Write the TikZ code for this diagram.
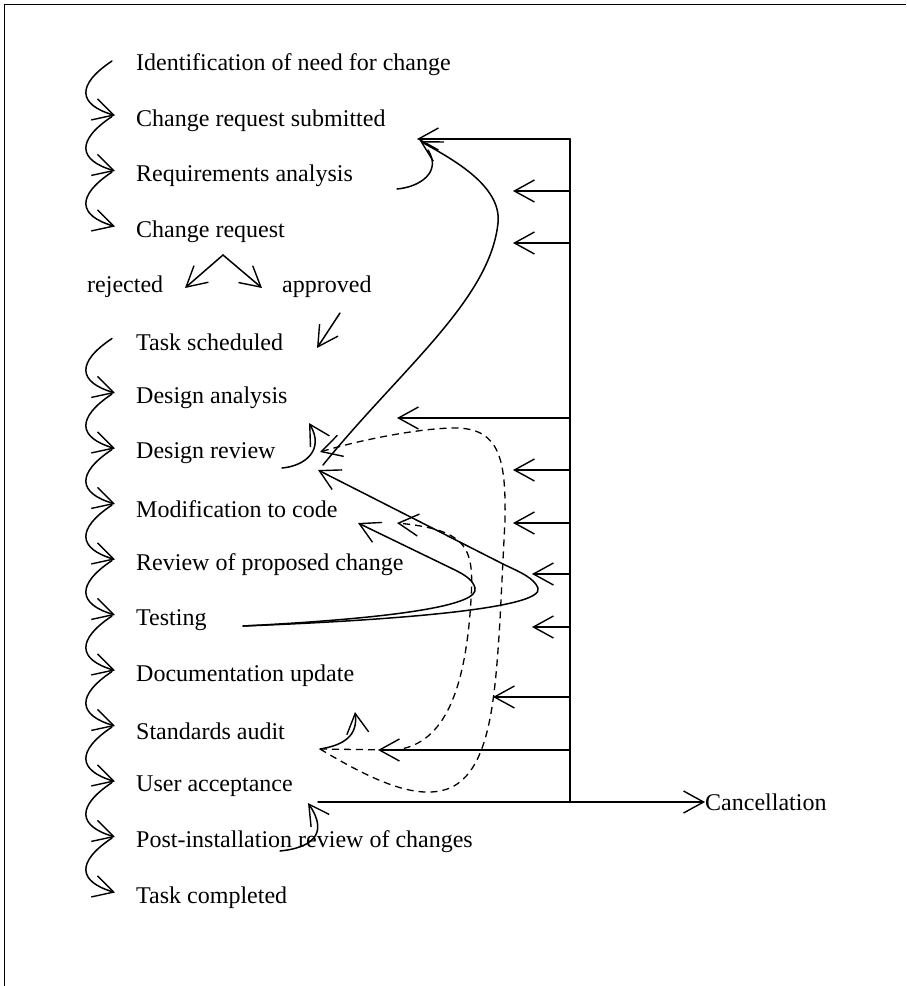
\documentclass[tikz,border=0pt]{standalone}
\usepackage{fontspec}
\setmainfont{Liberation Serif}
\usetikzlibrary{arrows.meta,calc}
\begin{document}
\begin{tikzpicture}[x=1pt,y=-1pt,
  lbl/.style={anchor=west,inner sep=0pt,font=\fontsize{24}{28}\selectfont},
  tip/.style={-{Straight Barb[length=20pt,width=22pt,line width=1.4pt]}},
  ln/.style={line width=1.5pt,line cap=round},
  dsh/.style={line width=1.3pt,dash pattern=on 7pt off 5pt}]
\useasboundingbox (0,0) rectangle (906,986);
\draw[line width=1pt] (4,986) -- (4,4) -- (906,4);
% rows
\foreach \k/\t in {0/Identification of need for change,1/Change request submitted,2/Requirements analysis,3/Change request,5/Task scheduled,6/Design analysis,7/Design review,8/Modification to code,9/Review of proposed change,10/Testing,11/Documentation update,12/Standards audit,13/User acceptance,14/Post-installation review of changes,15/Task completed}{
  \pgfmathsetmacro\yy{65+55.5*\k}
  \node[lbl] (r\k) at (136,\yy) {\t};
}
\node[lbl] (rej) at (87,287) {rejected};
\node[lbl] (app) at (282,287) {approved};
\node[lbl] (cancel) at (705,802) {Cancellation};
% curly arrows on the left
\foreach \k in {0,1,2,5,6,7,8,9,10,11,12,13,14}{
  \pgfmathtruncatemacro\j{\k+1}
  \draw[ln,tip] ($(r\k.west)+(-24,-4)$) .. controls ($(r\k.west)+(-60,20)$) and ($(r\j.west)+(-58,-16)$) .. ($(r\j.west)+(-21,-5)$);
}
% decision
\coordinate (apex) at (223,255);
\coordinate (rejtip) at (185,288);
\coordinate (apptip) at (262,288);
\draw[ln,tip] (apex) -- (rejtip);
\draw[ln,tip] (apex) -- (apptip);
\coordinate (aps) at (340,313);
\coordinate (ape) at (317,348);
\draw[ln,tip] (aps) -- (ape);
% bus on the right
\coordinate (vt) at (570,139);
\coordinate (vb) at (570,802);
\coordinate (crs) at (417,139);
\draw[ln] (vt) -- (vb);
\draw[ln,tip] (vt) -- (crs);
\foreach \i/\yy/\xx in {1/191/513,2/243/513,3/418/397,4/470/513,5/523/513,6/574/532,7/627/532,8/697/493,9/750/378}{
  \coordinate (bs\i) at (570,\yy);
  \coordinate (be\i) at (\xx,\yy);
  \draw[ln,tip] (bs\i) -- (be\i);
}
\coordinate (ua) at (318,802);
\draw[ln,tip] (ua) -- (cancel.west);
% small loops
\coordinate (ras) at (397,189);
\coordinate (rae) at (428,150);
\draw[ln] (ras) .. controls (420,187) and (442,172) .. (rae);
\coordinate (drs) at (282,468);
\coordinate (dre) at (309,423);
\draw[ln,tip] (drs) .. controls (305,466) and (325,450) .. (dre);
\coordinate (sas) at (320,749);
\coordinate (sae) at (355,712);
\draw[ln,tip] (sas) .. controls (345,745) and (358,735) .. (sae);
\coordinate (pis) at (280,851);
\coordinate (pie) at (308,803);
\draw[ln,tip] (pis) .. controls (310,848) and (330,835) .. (pie);
% long S curve design review -> change request submitted
\coordinate (sst) at (323,465);
\coordinate (sen) at (420,141);
\draw[ln,tip] (sst) .. controls (400,370) and (490,300) .. (498,223) .. controls (502,185) and (450,158) .. (sen);
% testing curves
\coordinate (ts) at (243,626);
\coordinate (tdr) at (318,470);
\coordinate (tmc) at (358,523);
\draw[ln,tip] (ts) .. controls (400,620) and (545,608) .. (538,588) .. controls (534,578) and (520,572) .. (505,565) -- (tdr);
\draw[ln,tip] (ts) .. controls (400,618) and (480,605) .. (475,588) .. controls (473,580) and (465,575) .. (455,570) -- (tmc);
% dashed curves from standards audit
\coordinate (ddr) at (320,452);
\coordinate (dmc) at (397,523);
\draw[dsh,tip] (sas) .. controls (380,785) and (420,800) .. (450,788) .. controls (490,770) and (495,700) .. (500,620) -- (505,520) .. controls (506,460) and (500,428) .. (455,428) .. controls (420,428) and (360,440) .. (ddr);
\draw[dsh,tip] (sas) -- (395,750) .. controls (440,745) and (465,700) .. (471,600) .. controls (474,550) and (470,530) .. (dmc);
\end{tikzpicture}
\end{document}
